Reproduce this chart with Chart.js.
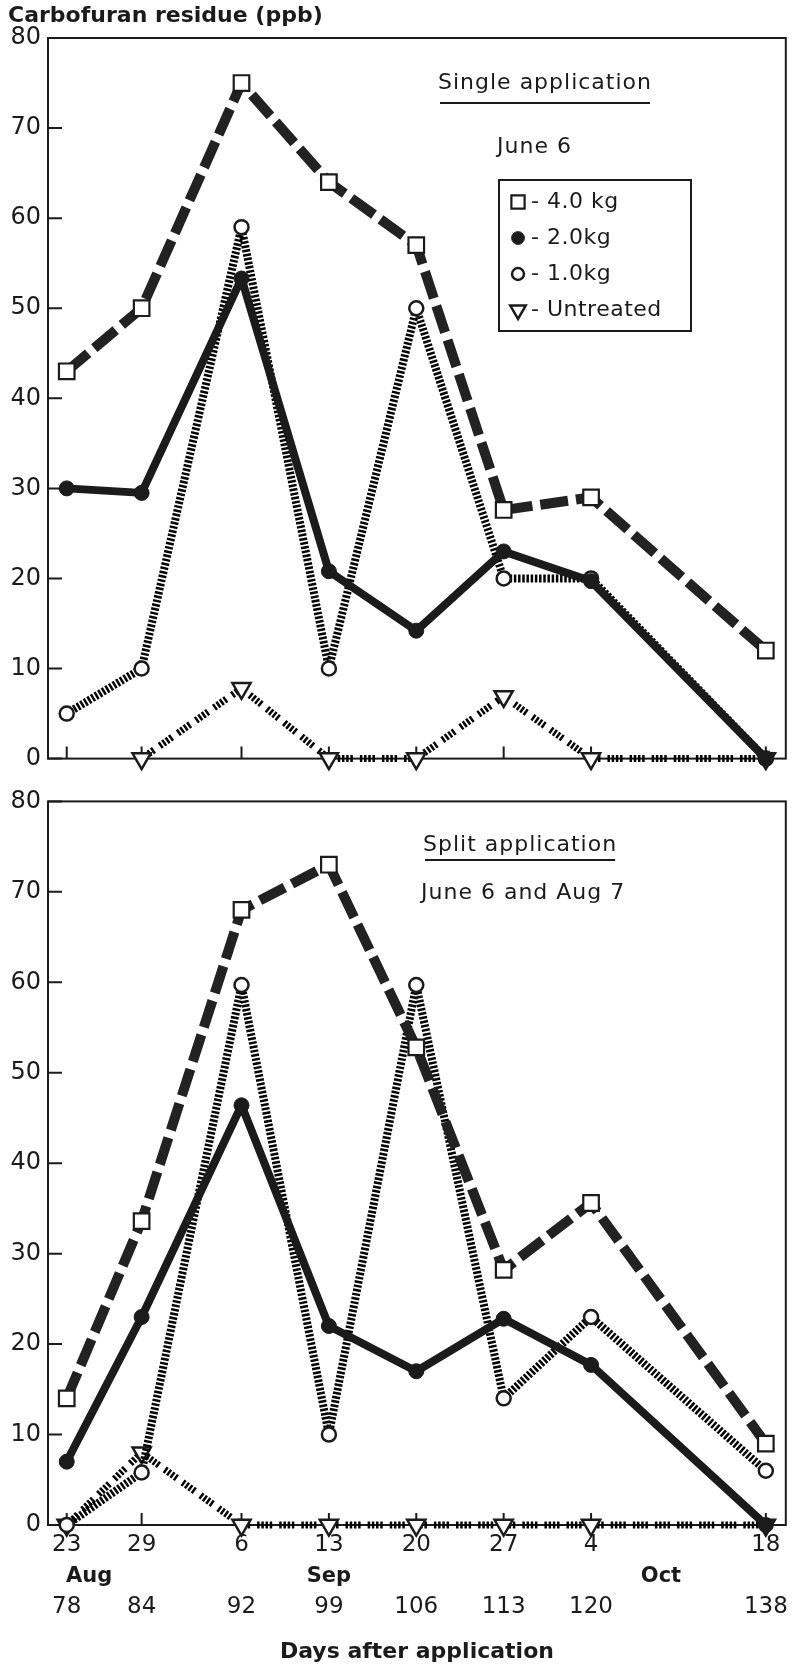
<!DOCTYPE html>
<html>
<head>
<meta charset="utf-8">
<script src="https://cdn.jsdelivr.net/npm/chart.js@4.4.1/dist/chart.umd.min.js"></script>
<style>
  html, body { margin: 0; padding: 0; background: #fff; }
  body { width: 799px; height: 1666px; position: relative; overflow: hidden; }
  canvas { position: absolute; left: 0; }
  #single { top: 0; }
  #split { top: 780px; }
</style>
</head>
<body>
<canvas id="single" width="799" height="780"></canvas>
<canvas id="split" width="799" height="886"></canvas>
<script>
// sampling dates, as days after the June 6 application
// (the Oct 18 sample sits at day 134 on the drawn axis, but is labelled 138)
var sampleDays = [78, 84, 92, 99, 106, 113, 120, 134];
var dateLabels = ['23', '29', '6', '13', '20', '27', '4', '18'];
var dayLabels = ['78', '84', '92', '99', '106', '113', '120', '138'];
var monthLabels = ['Aug', 'Sep', 'Oct'];
var monthDays = [79.8, 99, 125.6];
var yTicks = [0, 10, 20, 30, 40, 50, 60, 70, 80];

var seriesNames = ['4.0 kg', '2.0kg', '1.0kg', 'Untreated'];

// single application, June 6
var single40 = [43, 50, 75, 64, 57, 27.6, 29, 12];
var single20 = [30, 29.5, 53.3, 20.8, 14.2, 23, 19.7, 0];
var single10 = [5, 10, 59, 10, 50, 20, 20, 0];
var singleUT = [null, 0, 7.8, 0, 0, 6.9, 0, 0];

// split application, June 6 and Aug 7
var split40 = [14, 33.6, 68, 73, 52.8, 28.2, 35.6, 9];
var split20 = [7, 23, 46.4, 22, 17, 22.8, 17.7, 0];
var split10 = [0, 5.8, 59.7, 10, 59.7, 14, 23, 6];
var splitUT = [0, 8, 0, 0, 0, 0, 0, 0];

var ink = '#1b1b1b';
Chart.defaults.font.family = 'DejaVu Sans';
Chart.defaults.color = ink;

var styles = [
    { borderColor: '#222', borderWidth: 10, borderDash: [28, 8], pointStyle: 'rect', pointRadius: 11,
      pointBackgroundColor: '#fff', pointBorderColor: ink, pointBorderWidth: 2.2, pointRotation: 0 },
    { borderColor: ink, borderWidth: 8, borderDash: [], pointStyle: 'circle', pointRadius: 7.5,
      pointBackgroundColor: ink, pointBorderColor: ink, pointBorderWidth: 1, pointRotation: 0 },
    { borderColor: '#000', borderWidth: 8, borderDash: [2.5, 1.7], pointStyle: 'circle', pointRadius: 7,
      pointBackgroundColor: '#fff', pointBorderColor: ink, pointBorderWidth: 2.5, pointRotation: 0 },
    { borderColor: '#000', borderWidth: 7, borderDash: [2.5, 1.7, 2.5, 1.7, 2.5, 1.7, 2.5, 7], pointStyle: 'triangle', pointRadius: 10.5,
      pointBackgroundColor: '#fff', pointBorderColor: ink, pointBorderWidth: 2.5, pointRotation: 180 }
];

function makeDatasets(series) {
    return series.map(function (values, i) {
        var s = styles[i];
        return {
            label: seriesNames[i],
            data: values.map(function (v, k) { return { x: sampleDays[k], y: v }; }),
            borderColor: s.borderColor,
            borderWidth: s.borderWidth,
            borderDash: s.borderDash,
            borderJoinStyle: 'round',
            tension: 0,
            fill: false,
            pointStyle: s.pointStyle,
            pointRadius: s.pointRadius,
            pointHoverRadius: s.pointRadius,
            pointRotation: s.pointRotation,
            pointBackgroundColor: s.pointBackgroundColor,
            pointBorderColor: s.pointBorderColor,
            pointBorderWidth: s.pointBorderWidth,
            clip: false
        };
    });
}

// box, inward ticks, panel notes and the legend
var panelPlugin = {
    id: 'panel',
    beforeDatasetsDraw: function (chart) {
        var a = chart.chartArea, ctx = chart.ctx;
        var xs = chart.scales.x, ys = chart.scales.y;
        ctx.save();
        ctx.strokeStyle = ink;
        ctx.lineWidth = 2;
        ctx.strokeRect(a.left, a.top, a.right - a.left, a.bottom - a.top);
        ctx.beginPath();
        yTicks.forEach(function (v) {
            var py = ys.getPixelForValue(v);
            ctx.moveTo(a.left, py);
            ctx.lineTo(a.left + 14, py);
        });
        sampleDays.forEach(function (d) {
            var px = xs.getPixelForValue(d);
            ctx.moveTo(px, a.bottom);
            ctx.lineTo(px, a.bottom - 12);
        });
        ctx.stroke();
        ctx.restore();
    },
    afterDraw: function (chart, args, opts) {
        var ctx = chart.ctx;
        ctx.save();
        ctx.fillStyle = ink;
        ctx.strokeStyle = ink;
        ctx.textBaseline = 'middle';
        (opts.notes || []).forEach(function (n) {
            ctx.font = n.font;
            ctx.letterSpacing = n.spacing || '0px';
            ctx.textAlign = 'left';
            ctx.fillText(n.text, n.x, n.y);
            if (n.underline) {
                ctx.lineWidth = 2.2;
                ctx.beginPath();
                ctx.moveTo(n.x + 2, n.y + n.underline);
                ctx.lineTo(n.x + ctx.measureText(n.text).width - 2, n.y + n.underline);
                ctx.stroke();
            }
        });
        ctx.letterSpacing = '0px';
        if (opts.months) {
            var xs = chart.scales.x;
            ctx.font = 'bold 21px DejaVu Sans';
            ctx.textAlign = 'center';
            monthLabels.forEach(function (m, i) {
                ctx.fillText(m, xs.getPixelForValue(monthDays[i]), opts.months);
            });
        }
        if (opts.legend) {
            var L = opts.legend;
            ctx.lineWidth = 2;
            ctx.strokeRect(L.left, L.top, L.width, L.height);
            ctx.font = '22px DejaVu Sans';
            ctx.letterSpacing = '0.5px';
            ctx.textAlign = 'left';
            seriesNames.forEach(function (name, i) {
                var s = styles[i];
                var y = L.top + L.firstRow + i * L.rowGap;
                ctx.fillStyle = s.pointBackgroundColor;
                ctx.strokeStyle = s.pointBorderColor;
                ctx.lineWidth = s.pointBorderWidth;
                Chart.helpers.drawPoint(ctx, {
                    pointStyle: s.pointStyle,
                    radius: s.pointRadius * 0.85,
                    rotation: s.pointRotation,
                    borderWidth: s.pointBorderWidth
                }, L.left + 19, y);
                ctx.fillStyle = ink;
                ctx.fillText('- ' + name, L.left + 32, y);
            });
        }
        ctx.restore();
    }
};

function createPanel(canvasId, series, padTop, axisHeight, showLabels, panelOpts) {
    var ctx = document.getElementById(canvasId).getContext('2d');
    return new Chart(ctx, {
        type: 'line',
        data: { datasets: makeDatasets(series) },
        options: {
            responsive: false,
            animation: false,
            devicePixelRatio: 1,
            layout: { padding: { top: padTop, right: 2, bottom: 0, left: 0 } },
            scales: {
                x: {
                    type: 'linear',
                    min: 76.5,
                    max: 135.6,
                    grid: { display: false, drawTicks: false },
                    border: { display: false },
                    afterBuildTicks: function (scale) {
                        scale.ticks = sampleDays.map(function (d) { return { value: d }; });
                    },
                    afterFit: function (scale) { scale.height = axisHeight; },
                    ticks: {
                        display: showLabels,
                        autoSkip: false,
                        maxRotation: 0,
                        minRotation: 0,
                        padding: 4.5,
                        font: { size: 23, lineHeight: 1.348 },
                        callback: function (value, index) {
                            return [dateLabels[index], '', dayLabels[index]];
                        }
                    },
                    title: {
                        display: showLabels,
                        text: 'Days after application',
                        font: { size: 22, weight: 'bold' },
                        padding: { top: 0, bottom: 1 }
                    }
                },
                y: {
                    min: 0,
                    max: 80,
                    grid: { display: false, drawTicks: false },
                    border: { display: false },
                    afterFit: function (scale) { scale.width = 48; },
                    ticks: { stepSize: 10, padding: 7, font: { size: 24 } }
                }
            },
            plugins: {
                legend: { display: false },
                tooltip: { enabled: false },
                panel: panelOpts
            }
        },
        plugins: [panelPlugin]
    });
}

createPanel('single', [single40, single20, single10, singleUT], 38, 10, false, {
    notes: [
        { text: 'Carbofuran residue (ppb)', x: 8, y: 16, font: 'bold 22px DejaVu Sans' },
        { text: 'Single application', x: 438, y: 83, font: '22px DejaVu Sans', spacing: '1px', underline: 20 },
        { text: 'June 6', x: 497, y: 147, font: '22px DejaVu Sans', spacing: '1px' }
    ],
    legend: { left: 499, top: 180, width: 192, height: 151, firstRow: 22, rowGap: 36 }
});

createPanel('split', [split40, split20, split10, splitUT], 15, 141, true, {
    notes: [
        { text: 'Split application', x: 423, y: 65, font: '22px DejaVu Sans', spacing: '1px', underline: 15 },
        { text: 'June 6 and Aug 7', x: 421, y: 113, font: '22px DejaVu Sans', spacing: '1px' }
    ],
    months: 797
});
</script>
</body>
</html>
